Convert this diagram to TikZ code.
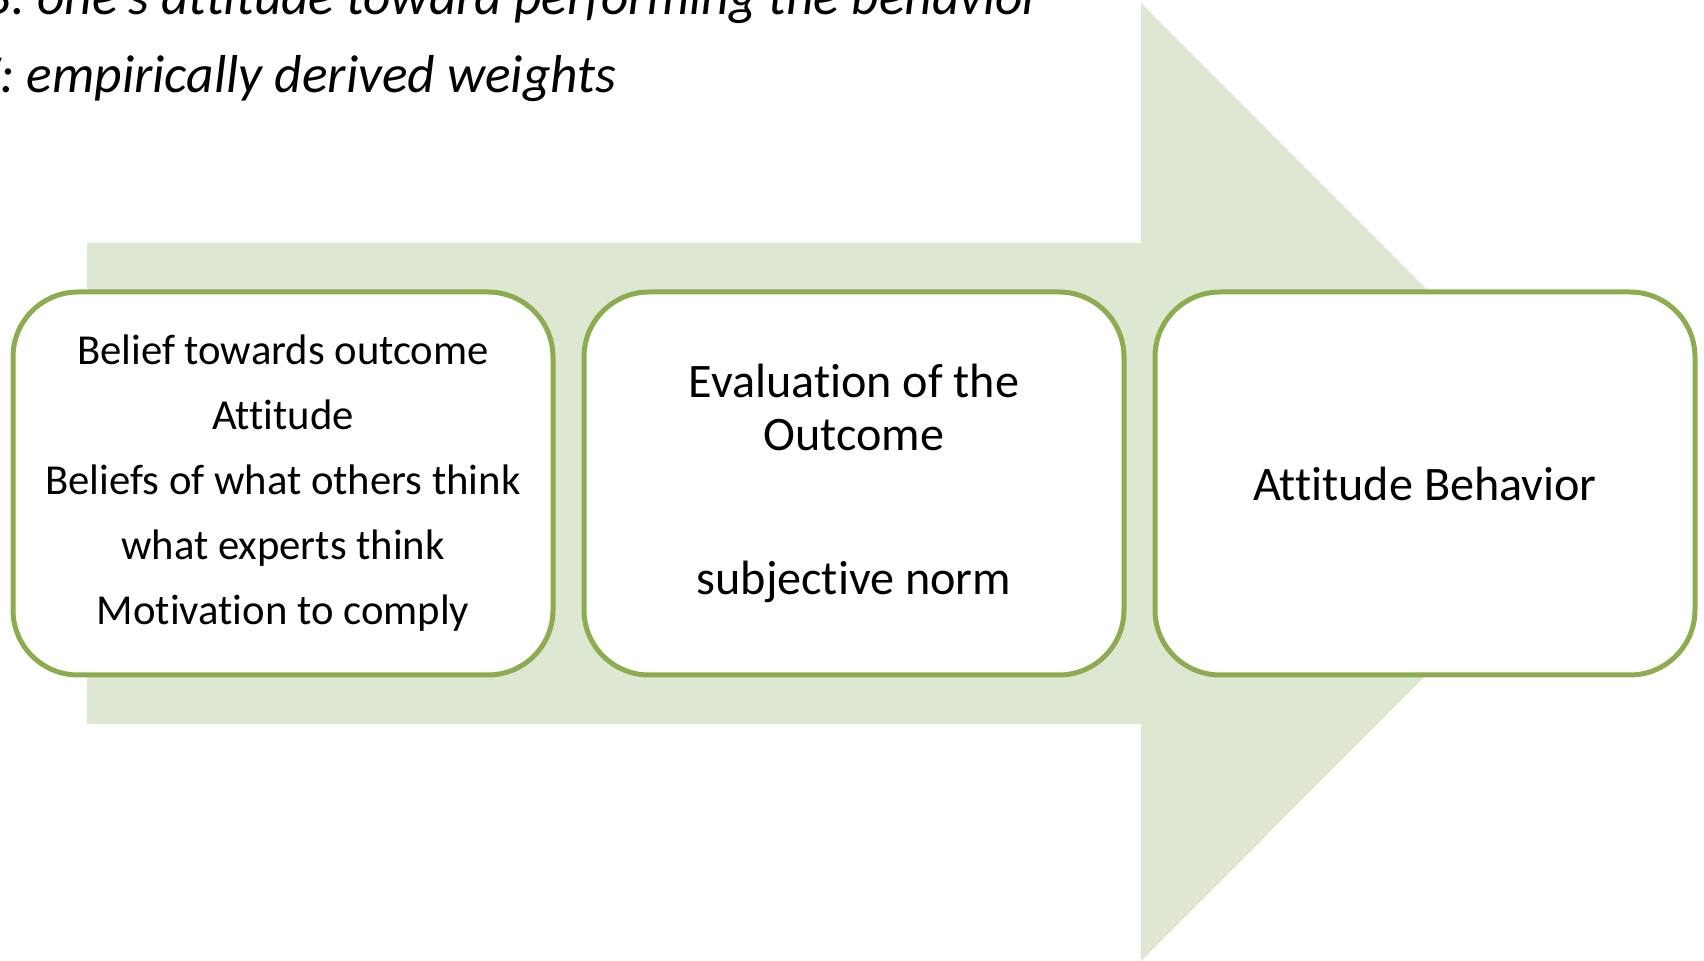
\documentclass[tikz,border=0pt]{standalone}
\usepackage{fontspec}
\setmainfont{Carlito}[Ligatures={NoCommon}]
\usetikzlibrary{positioning}

\definecolor{arrowfill}{RGB}{222,231,209}
\definecolor{boxline}{RGB}{141,172,80}

\begin{document}
\begin{tikzpicture}[
        x=0.1mm, y=-0.1mm,
        stagebox/.style={
            rectangle,
            rounded corners=6.5mm,
            draw=boxline,
            fill=white,
            line width=0.5mm,
            minimum width=54mm,
            minimum height=38.3mm,
            inner sep=0pt,
            align=center
        },
        smalltext/.style={
            font=\fontsize{12.15}{18.5}\selectfont
        },
        bigtext/.style={
            font=\fontsize{13.7}{15.1}\selectfont
        },
        note/.style={
            anchor=base east,
            inner sep=0pt,
            font=\fontsize{15.2}{22}\selectfont\itshape
        }
    ]

    \useasboundingbox (0,0) rectangle (1704,961);
    \clip (0,0) rectangle (1704,961);

    % Große Pfeilform im Hintergrund
    \fill[arrowfill] (87,243) -- (1141,243) -- (1141,3) -- (1619,482)
        -- (1141,961) -- (1141,724) -- (87,724) -- cycle;

    % Anmerkungen oben links
    \node[note] (attnote) at (1042,15)
        {B: one's attitude toward performing the behavior};
    \node[note] (weightnote) at (617,93)
        {W: empirically derived weights};

    % Stufen
    \node[stagebox,smalltext] (belief) at (283,483.5)
        {Belief towards outcome\\Attitude\\Beliefs of what others think\\what experts think\\Motivation to comply};

    \node[stagebox,bigtext,right=2.6mm of belief] (evaluation)
        {Evaluation of the\\Outcome\\[26pt]subjective norm};

    \node[stagebox,bigtext,right=2.6mm of evaluation] (behavior)
        {Attitude Behavior};

\end{tikzpicture}
\end{document}
